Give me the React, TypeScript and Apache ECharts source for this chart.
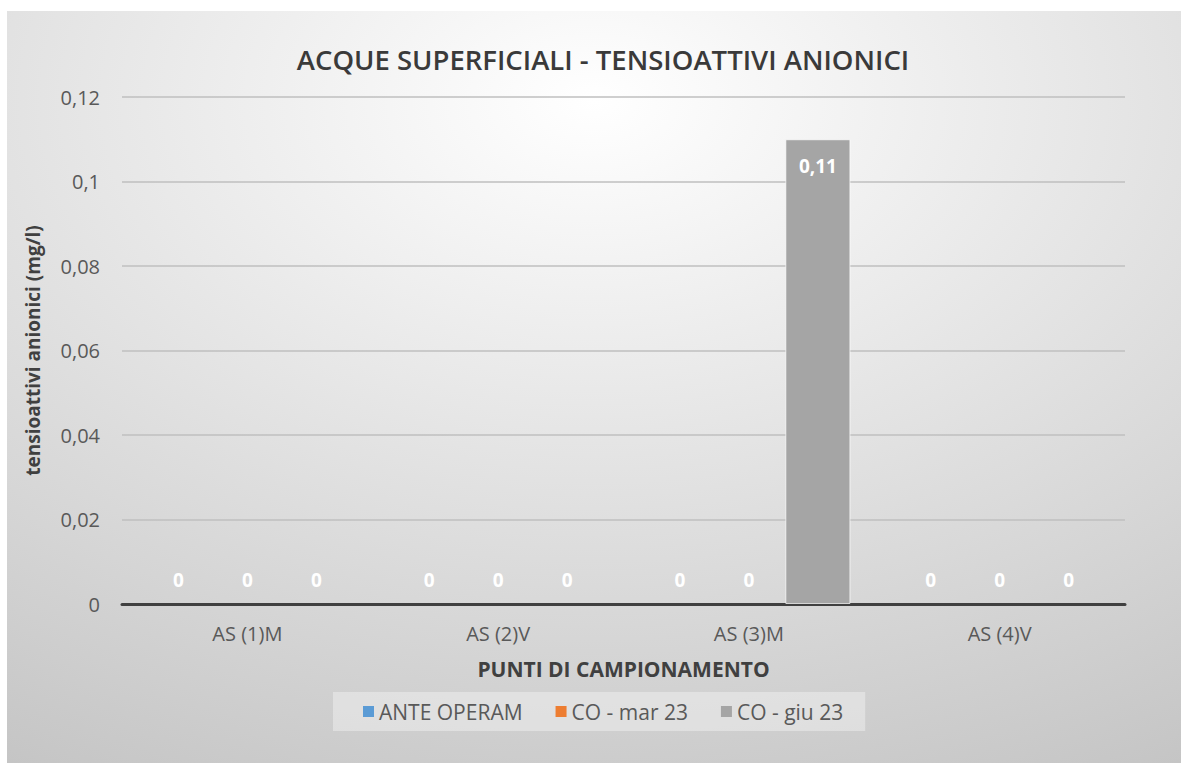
import React, { useEffect, useRef } from "react";
import * as echarts from "echarts";

const categories = ["AS (1)M", "AS (2)V", "AS (3)M", "AS (4)V"];
const seriesNames = ["ANTE OPERAM", "CO - mar 23", "CO - giu 23"];
const anteOperam = [0, 0, 0, 0];
const coMar23 = [0, 0, 0, 0];
const coGiu23 = [0, 0, 0.11, 0];
const seriesColors = ["#5B9BD5", "#ED7D31", "#A5A5A5"];
const yTicks = { min: 0, max: 0.12, interval: 0.02 };

const FONT = "'Open Sans', 'Noto Sans', sans-serif";
const TEXT = "#595959";

function toComma(v: number): string {
  return String(Math.round(v * 1000) / 1000).replace(".", ",");
}

export default function App() {
  const ref = useRef<HTMLDivElement>(null);
  useEffect(() => {
    if (!ref.current) return;
    const chart = echarts.init(ref.current, null, { renderer: "svg" });
    const allData = [anteOperam, coMar23, coGiu23];
    const series = allData.map((vals, i) => ({
      name: seriesNames[i],
      type: "bar",
      barGap: "6%",
      barCategoryGap: "19%",
      itemStyle: { color: seriesColors[i] },
      data: vals.map((v) => ({
        value: v,
        itemStyle:
          v > 0
            ? { borderColor: "rgba(255,255,255,0.7)", borderWidth: 1 }
            : { borderWidth: 0 },
        label: {
          show: true,
          position: v > 0 ? "insideTop" : "top",
          distance: v > 0 ? 17 : 15,
          color: "#ffffff",
          fontWeight: "bold",
          fontSize: 19,
          fontFamily: FONT,
          formatter: (p: any) => toComma(p.value),
        },
      })),
    }));
    chart.setOption({
      animation: false,
      graphic: [
        {
          type: "rect",
          z: -10,
          silent: true,
          shape: { x: 7, y: 11, width: 1174, height: 752 },
          style: {
            fill: new echarts.graphic.RadialGradient(0.5, 0.12, 1.15, [
              { offset: 0, color: "#ffffff" },
              { offset: 1, color: "#bdbdbd" },
            ]),
          },
        },
      ],
      title: {
        text: "ACQUE SUPERFICIALI - TENSIOATTIVI ANIONICI",
        left: 598,
        textAlign: "center",
        top: 40,
        textStyle: {
          fontFamily: FONT,
          fontSize: 27.5,
          fontWeight: 600,
          color: "#3a3a3a",
        },
      },
      grid: { left: 122, right: 56, top: 97, bottom: 161 },
      legend: {
        data: seriesNames,
        left: 333,
        top: 692,
        itemWidth: 11,
        itemHeight: 11,
        itemGap: 33,
        padding: [9, 22, 9, 30],
        backgroundColor: "rgba(255,255,255,0.35)",
        textStyle: { fontFamily: FONT, fontSize: 21, color: TEXT },
        icon: "rect",
      },
      xAxis: {
        type: "category",
        data: categories,
        name: "PUNTI DI CAMPIONAMENTO",
        nameLocation: "middle",
        nameGap: 54,
        nameTextStyle: { fontFamily: FONT, fontSize: 21, fontWeight: "bold", color: "#404040" },
        axisLine: { lineStyle: { color: "#404040", width: 3 } },
        axisTick: { show: false },
        axisLabel: { fontFamily: FONT, fontSize: 20, color: TEXT, margin: 19 },
      },
      yAxis: {
        type: "value",
        min: yTicks.min,
        max: yTicks.max,
        interval: yTicks.interval,
        name: "tensioattivi anionici (mg/l)",
        nameLocation: "middle",
        nameGap: 80,
        nameTextStyle: { fontFamily: FONT, fontSize: 19, fontWeight: "bold", color: "#404040" },
        axisLine: { show: false },
        axisTick: { show: false },
        axisLabel: {
          fontFamily: FONT,
          fontSize: 20,
          color: TEXT,
          margin: 22,
          formatter: (v: number) => toComma(v),
        },
        splitLine: { lineStyle: { color: "#bfbfbf", width: 1.5 } },
      },
      series,
    });
    return () => chart.dispose();
  }, []);
  return (
    <div
      ref={ref}
      style={{ position: "absolute", left: 0, top: 0, width: 1181, height: 765, background: "#ffffff" }}
    />
  );
}
